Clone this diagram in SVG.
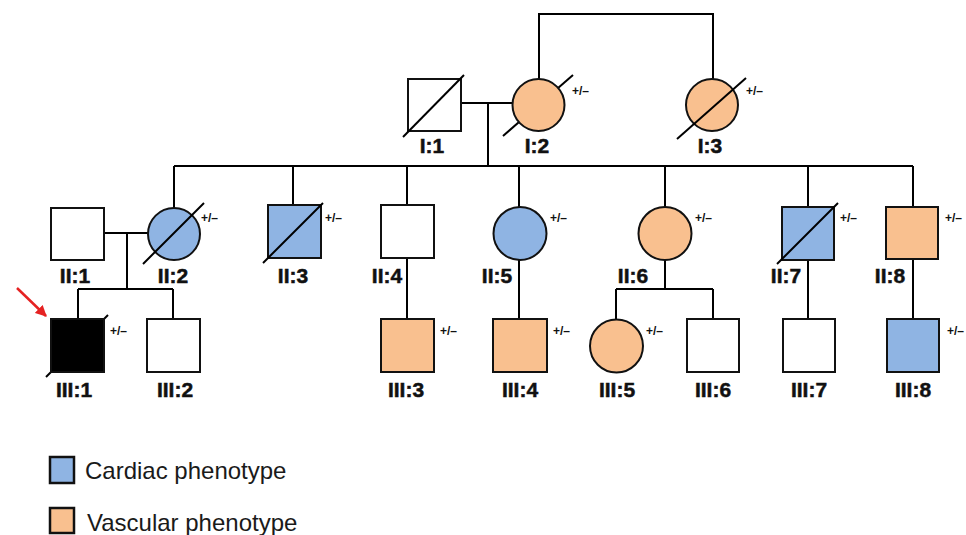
<svg xmlns="http://www.w3.org/2000/svg" width="966" height="535" viewBox="0 0 966 535">
<style>
.ln{stroke:#000;stroke-width:2;fill:none}
.sh{stroke:#111;stroke-width:2}
.w{fill:#fff}.b{fill:#8FB4E3}.o{fill:#F9C08F}.k{fill:#000}
.lb{font-family:"Liberation Sans",Arial,sans-serif;font-weight:bold;font-size:21px;text-anchor:middle;fill:#111;stroke:#111;stroke-width:0.5}
.pm{font-family:"Liberation Sans",Arial,sans-serif;font-weight:bold;font-size:12px;fill:#111}
.lg{font-family:"Liberation Sans",Arial,sans-serif;font-size:24px;fill:#1a1a1a}
</style>
<defs>
<marker id="ah" viewBox="0 0 10 10" refX="9" refY="5" markerWidth="4.5" markerHeight="4.5" orient="auto"><path d="M0,0L10,5L0,10z" fill="#e52222"/></marker>
</defs>
<g id="connectors" class="ln">
<path d="M539,79V14H713V79"/>
<path d="M461,103H512M488,103V166"/>
<path d="M174,166H913"/>
<path d="M174,166V208M293,166V205M407,166V205M519,166V207M665,166V207M808,166V207M913,166V207"/>
<path d="M104,233H148M127,233V289M78,289H173M78,289V319M173,289V319"/>
<path d="M407,258V319M519,260V319M665,260V289M616,289H713M616,289V320M713,289V319M808,260V319M913,259V319"/>
</g>
<g id="I1"><rect class="sh w" x="408" y="79" width="53" height="52"/><line class="ln" x1="403" y1="137" x2="464" y2="75"/><text class="lb" x="432" y="153">I:1</text></g>
<g id="I2"><line class="ln" x1="503" y1="136" x2="573" y2="75"/><circle class="sh o" cx="538.5" cy="105" r="26"/><text class="lb" x="537" y="153">I:2</text><text class="pm" x="572" y="95">+/–</text></g>
<g id="I3"><circle class="sh o" cx="712" cy="105" r="26"/><line class="ln" x1="677" y1="139" x2="746" y2="78"/><text class="lb" x="710" y="153">I:3</text><text class="pm" x="746" y="95">+/–</text></g>
<g id="II1"><rect class="sh w" x="51" y="208" width="53" height="52"/><text class="lb" x="75" y="283">II:1</text></g>
<g id="II2"><circle class="sh b" cx="174" cy="234" r="26"/><line class="ln" x1="143" y1="264" x2="204" y2="203"/><text class="lb" x="173" y="283">II:2</text><text class="pm" x="201" y="222">+/–</text></g>
<g id="II3"><rect class="sh b" x="268" y="205" width="53" height="53"/><line class="ln" x1="263" y1="263" x2="323" y2="203"/><text class="lb" x="293" y="283">II:3</text><text class="pm" x="325" y="222">+/–</text></g>
<g id="II4"><rect class="sh w" x="381" y="205" width="53" height="53"/><text class="lb" x="387" y="283">II:4</text></g>
<g id="II5"><circle class="sh b" cx="520" cy="233.5" r="26.5"/><text class="lb" x="497" y="283">II:5</text><text class="pm" x="550" y="222">+/–</text></g>
<g id="II6"><circle class="sh o" cx="665" cy="233.5" r="26.5"/><text class="lb" x="633" y="283">II:6</text><text class="pm" x="695" y="222">+/–</text></g>
<g id="II7"><rect class="sh b" x="782" y="207" width="52" height="53"/><line class="ln" x1="777" y1="264" x2="838" y2="203"/><text class="lb" x="786" y="283">II:7</text><text class="pm" x="840" y="222">+/–</text></g>
<g id="II8"><rect class="sh o" x="886" y="207" width="52" height="52"/><text class="lb" x="890" y="283">II:8</text><text class="pm" x="945" y="222">+/–</text></g>
<g id="III1"><line class="ln" x1="46" y1="377" x2="108" y2="315"/><rect class="sh k" x="51" y="319" width="53" height="53"/><text class="lb" x="74" y="397">III:1</text><text class="pm" x="110" y="335">+/–</text></g>
<g id="III2"><rect class="sh w" x="147" y="319" width="53" height="53"/><text class="lb" x="175" y="397">III:2</text></g>
<g id="III3"><rect class="sh o" x="381" y="319" width="53" height="53"/><text class="lb" x="406" y="397">III:3</text><text class="pm" x="440" y="335">+/–</text></g>
<g id="III4"><rect class="sh o" x="493" y="319" width="54" height="53"/><text class="lb" x="520" y="397">III:4</text><text class="pm" x="553" y="335">+/–</text></g>
<g id="III5"><circle class="sh o" cx="616.5" cy="346" r="26.5"/><text class="lb" x="617" y="397">III:5</text><text class="pm" x="646" y="335">+/–</text></g>
<g id="III6"><rect class="sh w" x="687" y="319" width="52" height="53"/><text class="lb" x="713" y="397">III:6</text></g>
<g id="III7"><rect class="sh w" x="783" y="319" width="52" height="53"/><text class="lb" x="809" y="397">III:7</text></g>
<g id="III8"><rect class="sh b" x="887" y="319" width="52" height="53"/><text class="lb" x="913" y="397">III:8</text><text class="pm" x="947" y="335">+/–</text></g>
<g id="proband"><line x1="17" y1="288" x2="46" y2="316" stroke="#e52222" stroke-width="2.5" marker-end="url(#ah)"/></g>
<g id="legend">
<rect class="b" x="50" y="457" width="24" height="26" stroke="#111" stroke-width="2.5"/>
<text class="lg" x="85" y="479">Cardiac phenotype</text>
<rect class="o" x="50" y="508" width="24" height="25" stroke="#111" stroke-width="2.5"/>
<text class="lg" x="87" y="531">Vascular phenotype</text>
</g>
</svg>
